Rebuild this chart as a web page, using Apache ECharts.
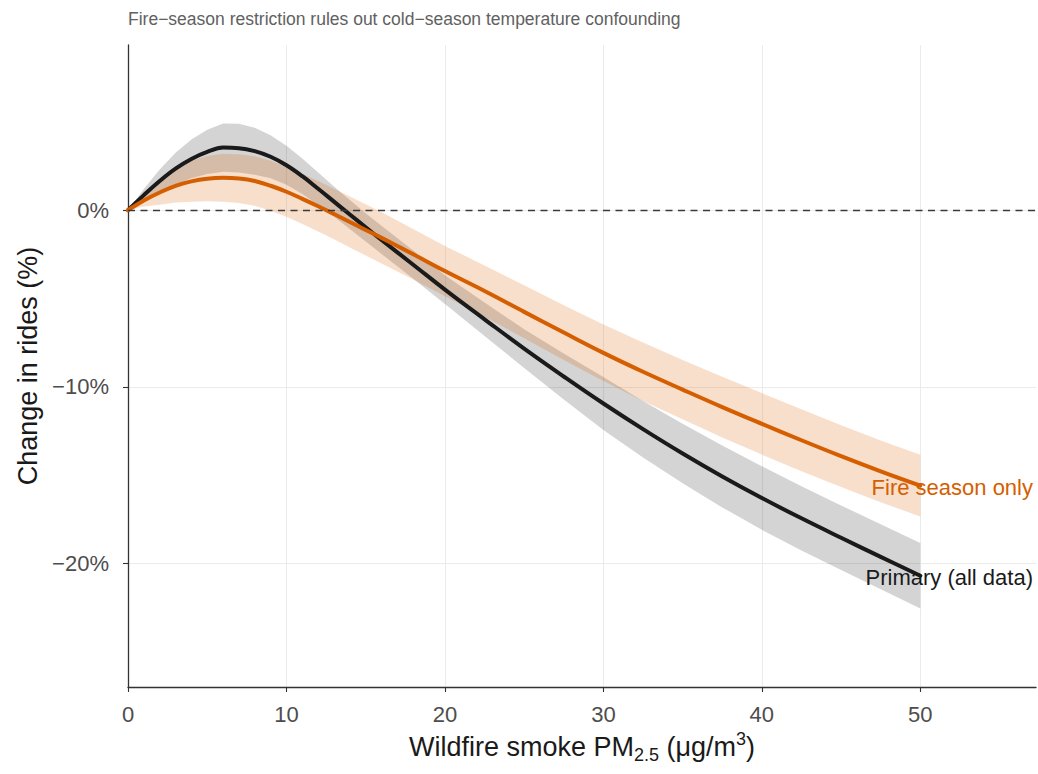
<!DOCTYPE html>
<html><head><meta charset="utf-8">
<script src="https://cdn.jsdelivr.net/npm/echarts@6/dist/echarts.min.js"></script>
<style>html,body{margin:0;padding:0;background:#fff}#chart{width:1038px;height:774px}</style>
</head><body><div id="chart"></div>
<script>
// ---- data ----
const pm = [0,1,2,3,4,5,6,7,8,9,10,11,12,13,14,15,16,18,20,22.5,25,27.5,30,32.5,35,37.5,40,42.5,45,47.5,50];
const primaryFit = [0,0.85,1.65,2.35,2.9,3.3,3.54,3.51,3.34,3.02,2.54,1.92,1.21,0.48,-0.25,-0.97,-1.69,-3.09,-4.5,-6.18,-7.84,-9.42,-10.95,-12.4,-13.78,-15.08,-16.3,-17.45,-18.55,-19.63,-20.7];
const primaryLo  = [0,0.5,1.0,1.45,1.8,2.05,2.18,2.13,2.01,1.8,1.44,0.92,0.29,-0.38,-1.07,-1.77,-2.49,-3.89,-5.32,-7.13,-8.94,-10.72,-12.45,-14.0,-15.46,-16.83,-18.1,-19.27,-20.38,-21.47,-22.55];
const primaryHi  = [0,1.2,2.3,3.25,4.0,4.55,4.9,4.89,4.67,4.24,3.64,2.92,2.13,1.34,0.57,-0.17,-0.89,-2.29,-3.68,-5.23,-6.74,-8.12,-9.45,-10.8,-12.1,-13.33,-14.5,-15.63,-16.72,-17.79,-18.85];
const fireFit = [0,0.55,1.0,1.38,1.63,1.78,1.83,1.79,1.65,1.38,1.04,0.64,0.22,-0.22,-0.67,-1.12,-1.57,-2.5,-3.45,-4.58,-5.76,-6.93,-8.08,-9.15,-10.16,-11.15,-12.1,-13.03,-13.93,-14.79,-15.6];
const fireLo  = [0,0.2,0.3,0.43,0.48,0.5,0.47,0.41,0.25,-0.03,-0.38,-0.78,-1.21,-1.65,-2.11,-2.57,-3.02,-3.93,-4.87,-6.03,-7.26,-8.48,-9.68,-10.8,-11.84,-12.87,-13.84,-14.78,-15.68,-16.54,-17.35];
const fireHi  = [0,0.9,1.7,2.33,2.78,3.06,3.19,3.17,3.05,2.79,2.46,2.06,1.65,1.21,0.77,0.33,-0.12,-1.07,-2.03,-3.13,-4.26,-5.38,-6.48,-7.5,-8.48,-9.43,-10.36,-11.28,-12.18,-13.04,-13.85];
const xTicks = [0,10,20,30,40,50];
const yTicks = [-20,-10,0];
const seriesNames = ['Primary (all data)','Fire season only'];
const titleText = 'Fire\u2212season restriction rules out cold\u2212season temperature confounding';
const xTitle = 'Wildfire smoke PM{sub|2.5} (\u03bcg/m{sup|3})';
const yTitle = 'Change in rides (%)';

// ---- layout / style ----
const FONT = "'Liberation Sans', Arial, sans-serif";
const X_MAX = 57.3, Y_MIN = -27, Y_MAX = 9.35;
const BLACK = '#1a1a1a', ORANGE = '#D55E00';

const chart = echarts.init(document.getElementById('chart'), null, {renderer:'svg', width:1038, height:774});

function band(lo, hi, color, z) {
  return {
    type: 'custom', silent: true, z: z,
    data: pm.map((x,i)=>[x, lo[i], hi[i]]),
    encode: {x:0, y:[1,2]},
    renderItem: function(params, api) {
      if (params.dataIndex !== 0) return null;
      const pts = [];
      for (let i=0;i<pm.length;i++) pts.push(api.coord([pm[i], hi[i]]));
      for (let i=pm.length-1;i>=0;i--) pts.push(api.coord([pm[i], lo[i]]));
      return {type:'polygon', shape:{points:pts}, style:{fill:color}};
    }
  };
}
function fitLine(name, fit, color, z) {
  return {
    type:'line', name:name, z:z, silent:true,
    data: pm.map((x,i)=>[x, fit[i]]),
    showSymbol:false, smooth:0.4,
    lineStyle:{color:color, width:4, cap:'round', join:'round'},
    markPoint:{
      symbol:'circle', symbolSize:0, silent:true,
      data:[{coord:[X_MAX, fit[fit.length-1]]}],
      label:{show:true, position:'left', distance:3, offset:[0,2], formatter:name, color:color, fontSize:22, fontFamily:FONT}
    }
  };
}

const option = {
  animation:false,
  backgroundColor:'#ffffff',
  title:{text:titleText, left:128, top:10, padding:0, textStyle:{fontSize:17.5, fontWeight:'normal', color:'#616161', fontFamily:FONT}},
  grid:{left:128, right:2, top:45, bottom:87},
  xAxis:{
    type:'value', min:0, max:X_MAX,
    axisLine:{show:true, onZero:false, lineStyle:{color:'#333', width:1.3}},
    axisTick:{show:true, length:5, customValues:xTicks, lineStyle:{color:'#333', width:1.1}},
    axisLabel:{customValues:xTicks, fontSize:22, color:'#4d4d4d', margin:16, fontFamily:FONT},
    splitLine:{show:true, lineStyle:{color:'#ebebeb', width:1}},
    name:xTitle, nameLocation:'middle', nameGap:42,
    nameTextStyle:{fontSize:27, color:BLACK, fontFamily:FONT, lineHeight:34,
      rich:{sub:{fontSize:18, lineHeight:18, verticalAlign:'bottom', fontFamily:FONT, color:BLACK},
            sup:{fontSize:18, lineHeight:18, verticalAlign:'top', fontFamily:FONT, color:BLACK}}}
  },
  yAxis:{
    type:'value', min:Y_MIN, max:Y_MAX,
    axisLine:{show:true, onZero:false, lineStyle:{color:'#333', width:1.3}},
    axisTick:{show:true, length:5, customValues:yTicks, lineStyle:{color:'#333', width:1.1}},
    axisLabel:{customValues:yTicks, fontSize:22, color:'#4d4d4d', margin:19, fontFamily:FONT,
      formatter:v => (v<0?'\u2212':'') + Math.abs(v) + '%'},
    splitLine:{show:true, lineStyle:{color:'#ebebeb', width:1}},
    name:yTitle, nameLocation:'middle', nameGap:86,
    nameTextStyle:{fontSize:27, color:BLACK, fontFamily:FONT}
  },
  series:[
    band(primaryLo, primaryHi, 'rgba(0,0,0,0.17)', 1),
    band(fireLo, fireHi, 'rgba(213,94,0,0.2)', 1),
    {type:'line', data:[], silent:true, z:2,
      markLine:{silent:true, symbol:['none','none'], label:{show:false},
        lineStyle:{type:[7,5.5], color:'#3a3a3a', width:1.4}, data:[{yAxis:0}]}},
    fitLine(seriesNames[0], primaryFit, BLACK, 3),
    fitLine(seriesNames[1], fireFit, ORANGE, 4)
  ]
};
chart.setOption(option);
</script>
</body></html>
